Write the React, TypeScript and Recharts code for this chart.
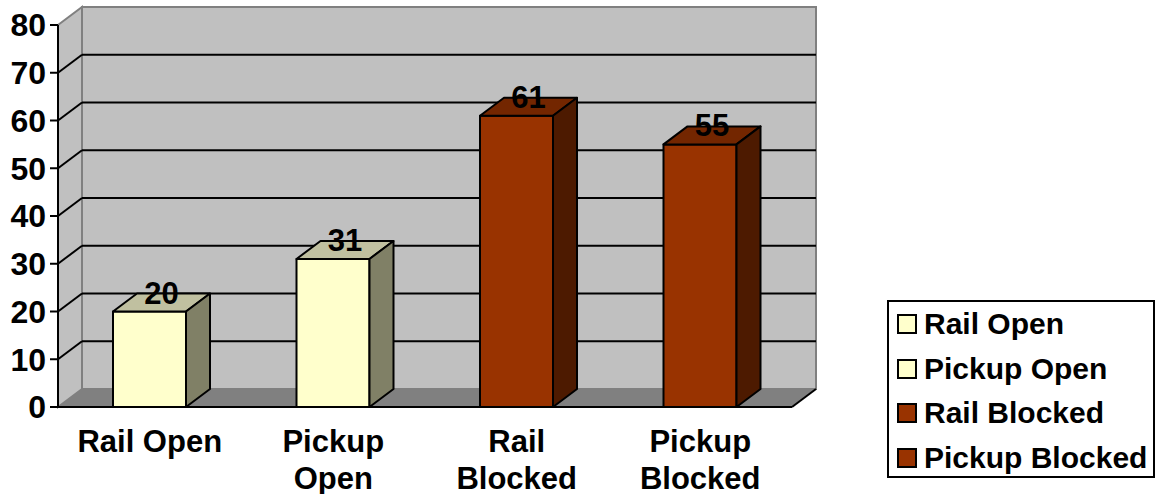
import React from "react";
import {
  BarChart,
  Bar,
  XAxis,
  YAxis,
  CartesianGrid,
  LabelList,
} from "recharts";

const categories = ["Rail Open", "Pickup Open", "Rail Blocked", "Pickup Blocked"];
const counts = [20, 31, 61, 55];
const tickLines = [["Rail Open"], ["Pickup", "Open"], ["Rail", "Blocked"], ["Pickup", "Blocked"]];
const yTicks = [0, 10, 20, 30, 40, 50, 60, 70, 80];
const edgeTicks = [0, 1, 2, 3, 4];

const data = categories.map((name, i) => ({ name, value: counts[i] }));

const FONT = '"Liberation Sans", Arial, sans-serif';
const DX = 24;
const DY = 18;
const WALL = "#C0C0C0";
const FLOOR = "#808080";

const faces = [
  { front: "#FFFFCC", top: "#C0C0A0", side: "#808066" },
  { front: "#FFFFCC", top: "#C0C0A0", side: "#808066" },
  { front: "#993300", top: "#732600", side: "#4D1A00" },
  { front: "#993300", top: "#732600", side: "#4D1A00" },
];

function pts(list: number[][]) {
  return list.map((p) => p.join(",")).join(" ");
}

// walls, floor and gridlines drawn through the grid's line callback
function GridLine(props: any) {
  const { x, y, width, height, y1, index } = props;
  const bottom = y + height;
  const right = x + width;
  const isEdge = Math.abs(y1 - y) < 1 || Math.abs(y1 - bottom) < 1;
  return (
    <g>
      {index === 0 && (
        <g>
          <polygon
            points={pts([[x, y], [x + DX, y - DY], [x + DX, bottom - DY], [x, bottom]])}
            fill={WALL}
            stroke="#808080"
            strokeWidth={2}
          />
          <rect
            x={x + DX}
            y={y - DY}
            width={width}
            height={height}
            fill={WALL}
            stroke="#808080"
            strokeWidth={2}
          />
          <polygon
            points={pts([[x, bottom], [right, bottom], [right + DX, bottom - DY], [x + DX, bottom - DY]])}
            fill={FLOOR}
          />
          <line x1={right} y1={bottom} x2={right + DX} y2={bottom - DY} stroke="#000" strokeWidth={2} />
        </g>
      )}
      {!isEdge && (
        <g>
          <line x1={x} y1={y1} x2={x + DX} y2={y1 - DY} stroke="#000" strokeWidth={2} />
          <line x1={x + DX} y1={y1 - DY} x2={right + DX} y2={y1 - DY} stroke="#000" strokeWidth={2} />
        </g>
      )}
    </g>
  );
}

function Bar3D(props: any) {
  const { x, y, width, height, index } = props;
  const c = faces[index % faces.length];
  const r = x + width;
  const b = y + height;
  return (
    <g stroke="#000" strokeWidth={2} strokeLinejoin="round">
      <rect x={x} y={y} width={width} height={height} fill={c.front} />
      <polygon points={pts([[x, y], [x + DX, y - DY], [r + DX, y - DY], [r, y]])} fill={c.top} />
      <polygon points={pts([[r, y], [r + DX, y - DY], [r + DX, b - DY], [r, b]])} fill={c.side} />
    </g>
  );
}

function ValueLabel(props: any) {
  const { x, y, width, value } = props;
  return (
    <text
      x={x + width / 2 + DX / 2}
      y={y - 8}
      textAnchor="middle"
      fontFamily={FONT}
      fontWeight="bold"
      fontSize={31}
      fill="#000"
    >
      {value}
    </text>
  );
}

function CategoryTick(props: any) {
  const { x, y, index } = props;
  const lines = tickLines[index] || [];
  return (
    <text textAnchor="middle" fontFamily={FONT} fontWeight="bold" fontSize={31} fill="#000">
      {lines.map((t, i) => (
        <tspan key={i} x={x} y={y + 43 + i * 37}>
          {t}
        </tspan>
      ))}
    </text>
  );
}

export default function App() {
  return (
    <div style={{ position: "absolute", left: 0, top: 0, width: 1157, height: 494, background: "#fff" }}>
      <BarChart
        width={1157}
        height={494}
        data={data}
        margin={{ top: 25, right: 365, bottom: 0, left: 0 }}
      >
        <CartesianGrid
          xAxisId="cat"
          vertical={false}
          horizontal={(p: any) => <GridLine key={p.key} {...p} />}
        />
        <XAxis
          xAxisId="edges"
          type="number"
          domain={[0, 4]}
          ticks={edgeTicks}
          tick={false}
          axisLine={false}
          tickLine={{ stroke: "#000", strokeWidth: 2 }}
          tickSize={9}
          height={0}
        />
        <XAxis
          xAxisId="cat"
          dataKey="name"
          axisLine={{ stroke: "#000", strokeWidth: 2 }}
          tickLine={false}
          tickSize={0}
          interval={0}
          height={87}
          tick={<CategoryTick />}
        />
        <YAxis
          width={58}
          domain={[0, 80]}
          ticks={yTicks}
          interval={0}
          axisLine={{ stroke: "#000", strokeWidth: 2 }}
          tickLine={{ stroke: "#000", strokeWidth: 2 }}
          tickSize={8}
          tickMargin={4}
          tick={{ fill: "#000", fontFamily: FONT, fontWeight: "bold", fontSize: 32 }}
        />
        <Bar
          xAxisId="cat"
          dataKey="value"
          barSize={73}
          shape={<Bar3D />}
          isAnimationActive={false}
        >
          <LabelList dataKey="value" content={<ValueLabel />} />
        </Bar>
      </BarChart>
      <div
        style={{
          position: "absolute",
          left: 887,
          top: 300,
          width: 268,
          height: 178,
          border: "2px solid #000",
          boxSizing: "border-box",
          fontFamily: FONT,
          fontWeight: "bold",
          fontSize: 30,
          paddingTop: 0,
        }}
      >
        {categories.map((name, i) => (
          <div key={name} style={{ display: "flex", alignItems: "center", height: 44.5, paddingLeft: 8 }}>
            <span
              style={{
                display: "inline-block",
                width: 16,
                height: 16,
                background: faces[i].front,
                border: "2px solid #000",
                marginRight: 7,
              }}
            />
            <span>{name}</span>
          </div>
        ))}
      </div>
    </div>
  );
}
